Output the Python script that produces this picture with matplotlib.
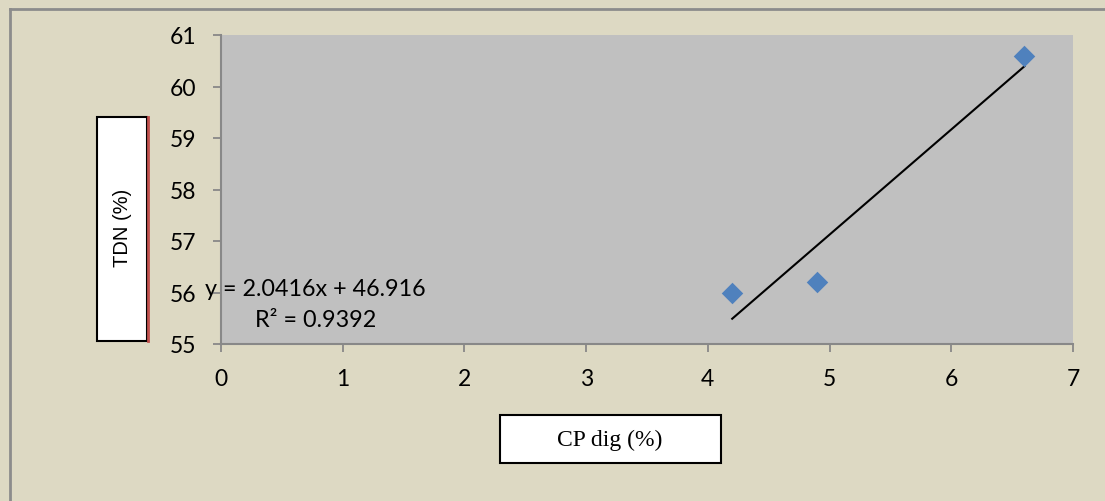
import matplotlib
matplotlib.use("Agg")
import matplotlib.pyplot as plt
import numpy as np
from matplotlib.patches import Rectangle
from matplotlib.lines import Line2D

# data
cp_dig = [4.2, 4.9, 6.6]
tdn = [56.0, 56.2, 60.6]
slope, intercept = 2.0416, 46.916
r2 = 0.9392
x_ticks = [0, 1, 2, 3, 4, 5, 6, 7]
y_ticks = [55, 56, 57, 58, 59, 60, 61]

W, H = 1105, 502
fig = plt.figure(figsize=(W / 100, H / 100), dpi=100)
fig.patch.set_facecolor("#DDD9C3")

# outer chart border (only top/left visible in reference)
fig.add_artist(Line2D([10 / W, 10 / W], [0, 1 - 10 / H], transform=fig.transFigure,
                      color="#8c8c8c", lw=2))
fig.add_artist(Line2D([10 / W, 1], [1 - 10 / H, 1 - 10 / H], transform=fig.transFigure,
                      color="#8c8c8c", lw=2))

left, right, top, bottom = 221, 1073, 36, 345
ax = fig.add_axes([left / W, 1 - bottom / H, (right - left) / W, (bottom - top) / H])
ax.set_facecolor("#C0C0C0")

ax.scatter(cp_dig, tdn, marker="D", s=120, color="#4F81BD", zorder=3, linewidths=0)
xs = np.array([min(cp_dig), max(cp_dig)])
ax.plot(xs, slope * xs + intercept, color="black", lw=1.5, zorder=2)

ax.set_xlim(0, 7)
ax.set_ylim(55, 61)
ax.set_xticks(x_ticks)
ax.set_yticks(y_ticks)
for s in ["top", "right"]:
    ax.spines[s].set_visible(False)
for s in ["left", "bottom"]:
    ax.spines[s].set_color("#888888")
    ax.spines[s].set_linewidth(1.5)
ax.tick_params(direction="out", length=6, width=1.3, color="#888888",
               labelsize=16.5)
ax.tick_params(axis="y", pad=12)
ax.tick_params(axis="x", pad=11)
for lab in ax.get_xticklabels() + ax.get_yticklabels():
    lab.set_fontfamily("Lato")

# trendline equation
fig.text(205 / W, 1 - 289 / H, "y = %.4fx + %.3f" % (slope, intercept),
         fontsize=16.8, family="Lato", va="center", ha="left")
fig.text(316 / W, 1 - 321 / H, "R² = %.4f" % r2,
         fontsize=16.8, family="Lato", va="center", ha="center")

# y-axis title box
fig.add_artist(Rectangle((97 / W, 1 - 342 / H), 50 / W, 224 / H, transform=fig.transFigure,
                         facecolor="white", edgecolor="black", lw=1.5))
fig.add_artist(Line2D([148 / W, 148 / W], [1 - 342 / H, 1 - 118 / H],
                      transform=fig.transFigure, color="#C0504D", lw=2))
fig.text(122 / W, 1 - 228 / H, "TDN (%)", rotation=90, fontsize=14.5,
         family="Liberation Sans", ha="center", va="center")

# x-axis title box
fig.add_artist(Rectangle((500 / W, 1 - 464 / H), 221 / W, 48 / H, transform=fig.transFigure,
                         facecolor="white", edgecolor="black", lw=1.5))
fig.text(610 / W, 1 - 440 / H, "CP dig (%)", fontsize=17,
         family="Liberation Serif", ha="center", va="center")

fig.savefig("out.png", dpi=100, facecolor=fig.get_facecolor())
